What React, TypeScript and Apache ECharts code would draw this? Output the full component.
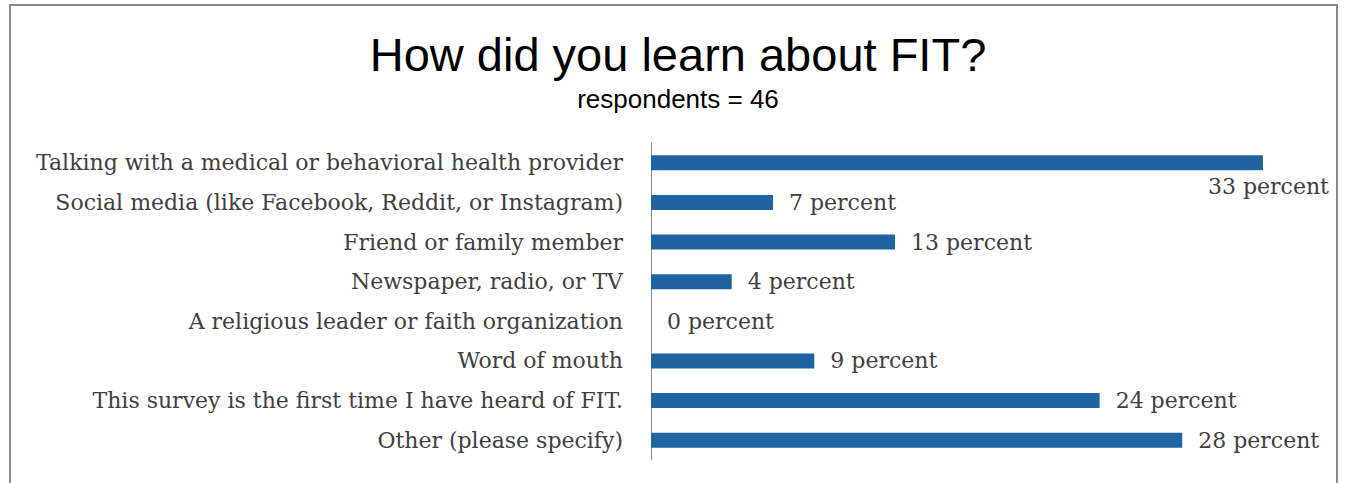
import React, { useEffect, useRef } from "react";
import * as echarts from "echarts";

const categories = [
  "Talking with a medical or behavioral health provider",
  "Social media (like Facebook, Reddit, or Instagram)",
  "Friend or family member",
  "Newspaper, radio, or TV",
  "A religious leader or faith organization",
  "Word of mouth",
  "This survey is the first time I have heard of FIT.",
  "Other (please specify)",
];
const values = [32.6, 6.5, 13.0, 4.3, 0, 8.7, 23.9, 28.3];
const titleText = "How did you learn about FIT?";
const subtitleText = "respondents = 46";

export default function App() {
  const ref = useRef<HTMLDivElement>(null);
  useEffect(() => {
    if (!ref.current) return;
    const chart = echarts.init(ref.current, undefined, { renderer: "svg" });
    const labelFont = "'DejaVu Serif', serif";
    chart.setOption({
      animation: false,
      backgroundColor: "#ffffff",
      title: {
        text: titleText,
        subtext: subtitleText,
        left: 673,
        textAlign: "center",
        top: 26,
        itemGap: 8,
        textStyle: { fontFamily: "'Liberation Sans', Arial, sans-serif", fontSize: 47, fontWeight: "normal", color: "#000" },
        subtextStyle: { fontFamily: "'Liberation Sans', Arial, sans-serif", fontSize: 26, color: "#000" },
      },
      graphic: [
        {
          type: "rect",
          shape: { x: 10, y: 5, width: 1327, height: 500 },
          style: { fill: "none", stroke: "#8a8a8a", lineWidth: 2 },
          silent: true,
        },
      ],
      grid: { left: 651, top: 143, height: 317, width: 657 },
      xAxis: {
        type: "value",
        min: 0,
        max: 35,
        show: false,
      },
      yAxis: {
        type: "category",
        inverse: true,
        data: categories,
        axisLine: { show: true, lineStyle: { color: "#8c8c8c", width: 1 } },
        axisTick: { show: false },
        axisLabel: { fontFamily: labelFont, fontSize: 22, color: "#404040", margin: 28 },
      },
      series: [
        {
          type: "bar",
          barWidth: 15,
          data: values.map((v, i) =>
            i === 0
              ? { value: v, label: { offset: [-71, 24] } }
              : v
          ),
          itemStyle: { color: "#1f63a0" },
          label: {
            show: true,
            position: "right",
            distance: 16,
            fontFamily: labelFont,
            fontSize: 22,
            color: "#404040",
            formatter: (p: any) => `${Math.round(p.value)} percent`,
          },
        },
      ],
    });
    return () => chart.dispose();
  }, []);
  return <div ref={ref} style={{ position: "fixed", left: 0, top: 0, width: 1347, height: 483 }} />;
}
